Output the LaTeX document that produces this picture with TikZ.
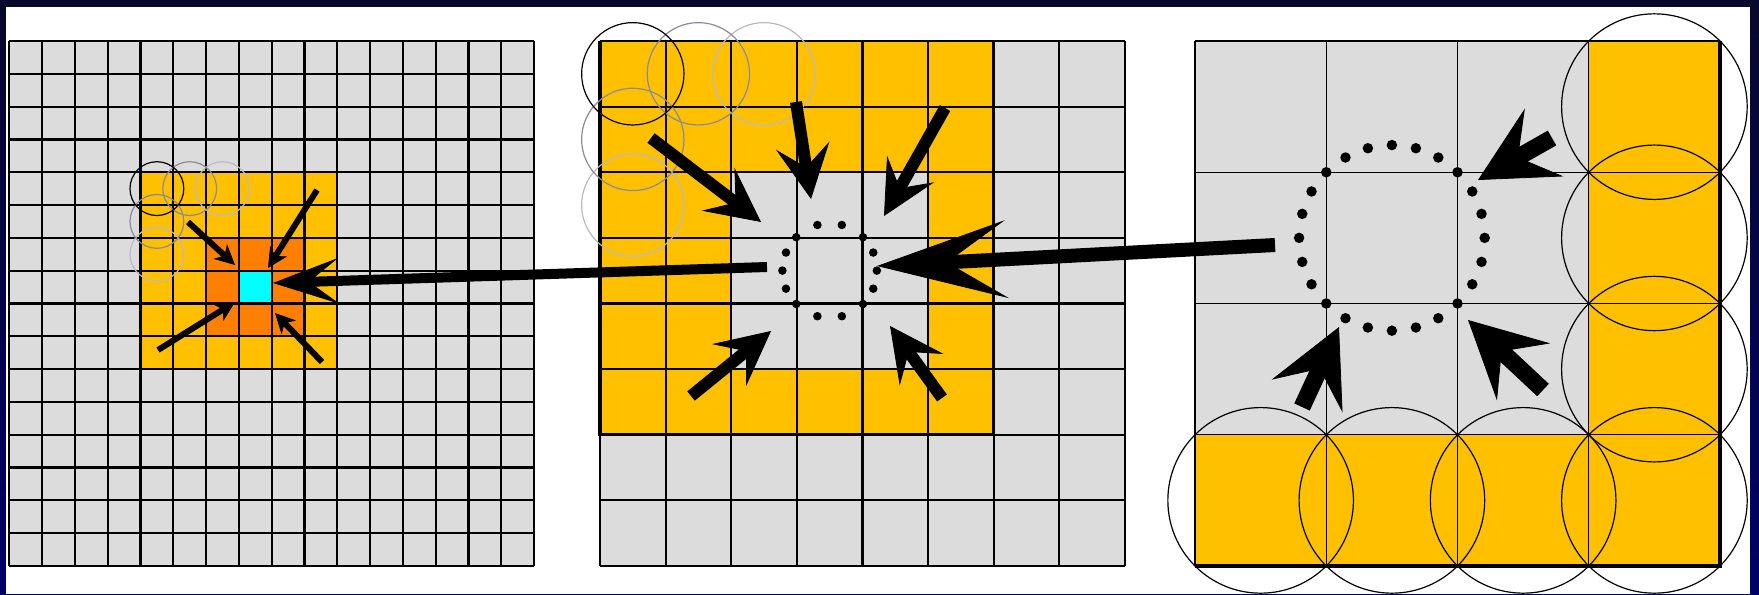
\documentclass[tikz,border=0pt]{standalone}
\usepackage{xcolor}
\usetikzlibrary{arrows.meta,positioning,calc}
\definecolor{navytop}{RGB}{8,8,44}
\definecolor{navybot}{RGB}{0,0,104}
\definecolor{cellgrey}{RGB}{220,220,220}
\definecolor{amber}{RGB}{255,192,0}
\definecolor{ember}{RGB}{255,128,0}
\definecolor{aqua}{RGB}{0,255,255}
\definecolor{ringgrey}{RGB}{140,138,152}
\definecolor{ringpale}{RGB}{188,186,192}
\tikzset{
  gridln/.style={black, line width=1.1pt},
  fineln/.style={black, line width=0.65pt},
  rimln/.style={black, line width=1.8pt},
  cellbox/.style={draw=none, inner sep=0pt, outer sep=0pt},
  reach/.style={line width=0.6pt},
  tinyflow/.style={line width=3pt, -{Stealth[length=10pt,width=10pt,inset=3pt,line width=0.4pt]}},
  flow/.style={line width=6pt, -{Stealth[length=27pt,width=27pt,inset=11pt,line width=0.4pt]}},
  bigflow/.style={line width=8.5pt, -{Stealth[length=38pt,width=39pt,inset=15pt,line width=0.4pt]}},
  zoomflow/.style={line width=7pt, -{Stealth[length=65pt,width=39pt,inset=30pt,line width=0.4pt]}},
  backflow/.style={line width=5pt, -{Stealth[length=33pt,width=23pt,inset=15pt,line width=0.4pt]}}
}

\begin{document}
\begin{tikzpicture}[x=0.5pt,y=-0.5pt]
  \useasboundingbox (0,0) rectangle (1759,594);
  % frame
  \shade[top color=navytop, bottom color=navybot] (0,0) rectangle (1759,594);
  \fill[white] (6,7) rectangle (1750,594);

  % whole field, 16 x 16
  \begin{scope}[shift={(4.65pt,-20.5pt)}, x=16.4pt, y=-16.4pt]
    \fill[cellgrey] (0,0) rectangle (16,16);
    \fill[amber] (4,4) rectangle (10,10);
    \fill[ember] (6,6) rectangle (9,9);
    \node[cellbox, fill=aqua, minimum size=16.4pt] (lcore) at (7.5,7.5) {};
    \foreach \k in {0,...,16} {
      \draw[gridln] (\k,0) -- (\k,16);
      \draw[gridln] (0,\k) -- (16,\k);
    }
    \draw[reach, ringpale] (6.5,4.5) circle[radius=0.82];
    \draw[reach, ringpale] (4.5,6.5) circle[radius=0.82];
    \draw[reach, ringgrey] (5.5,4.5) circle[radius=0.82];
    \draw[reach, ringgrey] (4.5,5.5) circle[radius=0.82];
    \draw[reach, black] (4.5,4.5) circle[radius=0.82];
  \end{scope}

  % the 6 x 6 block, zoomed
  \begin{scope}[shift={(300pt,-20.5pt)}, x=32.8pt, y=-32.8pt]
    \fill[cellgrey] (0,0) rectangle (8,8);
    \fill[amber] (0,0) rectangle (6,6);
    \fill[cellgrey] (2,2) rectangle (5,5);
    \node[cellbox, minimum size=32.8pt] (mcore) at (3.5,3.5) {};
    \foreach \k in {0,...,8} {
      \draw[gridln] (\k,0) -- (\k,8);
      \draw[gridln] (0,\k) -- (8,\k);
    }
    \draw[rimln] (0,0) -- (0,6) -- (6,6) -- (6,0);
    \draw[reach, ringpale] (2.5,0.5) circle[radius=0.78];
    \draw[reach, ringpale] (0.5,2.5) circle[radius=0.78];
    \draw[reach, ringgrey] (1.5,0.5) circle[radius=0.78];
    \draw[reach, ringgrey] (0.5,1.5) circle[radius=0.78];
    \draw[reach, black] (0.5,0.5) circle[radius=0.78];
    \foreach \a in {45,75,105,135,157.5,180,202.5,225,255,285,315,337.5,0,22.5}
      \fill (3.5,3.5) ++(\a:0.72) circle[radius=0.065];
  \end{scope}

  % the 4 x 4 corner, zoomed again
  \begin{scope}[shift={(597.5pt,-20.5pt)}, x=65.625pt, y=-65.625pt]
    \fill[cellgrey] (0,0) rectangle (4,4);
    \fill[amber] (3,0) rectangle (4,4);
    \fill[amber] (0,3) rectangle (4,4);
    \node[cellbox, minimum size=65.625pt] (rcore) at (1.5,1.5) {};
    \foreach \k in {0,...,4} {
      \draw[fineln] (\k,0) -- (\k,4);
      \draw[fineln] (0,\k) -- (4,\k);
    }
    \draw[rimln] (4,0) -- (4,4) -- (0,4);
    \foreach \r in {0,...,3}
      \draw[reach, black] (3.5,\r+0.5) circle[radius=0.707];
    \foreach \c in {0,...,2}
      \draw[reach, black] (\c+0.5,3.5) circle[radius=0.707];
    \foreach \a in {0,15,...,345}
      \fill (1.5,1.5) ++(\a:0.707) circle[radius=0.04];
  \end{scope}

  % arrow ends
  \coordinate (l1) at (188,222);  \coordinate (l1t) at (235,265);
  \coordinate (l2) at (317,190);  \coordinate (l2t) at (268,268);
  \coordinate (l3) at (158,350);  \coordinate (l3t) at (235,302);
  \coordinate (l4) at (322,362);  \coordinate (l4t) at (275,313);
  \coordinate (m1) at (651,138);  \coordinate (m1t) at (761,222);
  \coordinate (m2) at (796,102);  \coordinate (m2t) at (811,199);
  \coordinate (m3) at (945,108);  \coordinate (m3t) at (884,216);
  \coordinate (m4) at (691,396);  \coordinate (m4t) at (771,331);
  \coordinate (m5) at (942,398);  \coordinate (m5t) at (890,326);
  \coordinate (r1) at (1552,138); \coordinate (r1t) at (1478,180);
  \coordinate (r2) at (1302,407); \coordinate (r2t) at (1339,327);
  \coordinate (r3) at (1543,390); \coordinate (r3t) at (1468,320);
  \coordinate (rsrc) at (1275,245); \coordinate (mtip) at (877,266);
  \coordinate (msrc) at (767,267);  \coordinate (ltip) at (273,283);

  \foreach \p in {l1,l2,l3,l4}
    \draw[tinyflow] (\p) -- (\p t);
  \foreach \p in {m1,m2,m3,m4,m5}
    \draw[flow] (\p) -- (\p t);
  \foreach \p in {r1,r2,r3}
    \draw[bigflow] (\p) -- (\p t);
  \draw[zoomflow] (rsrc) -- (mtip);
  \draw[backflow] (msrc) -- (ltip);
\end{tikzpicture}
\end{document}
